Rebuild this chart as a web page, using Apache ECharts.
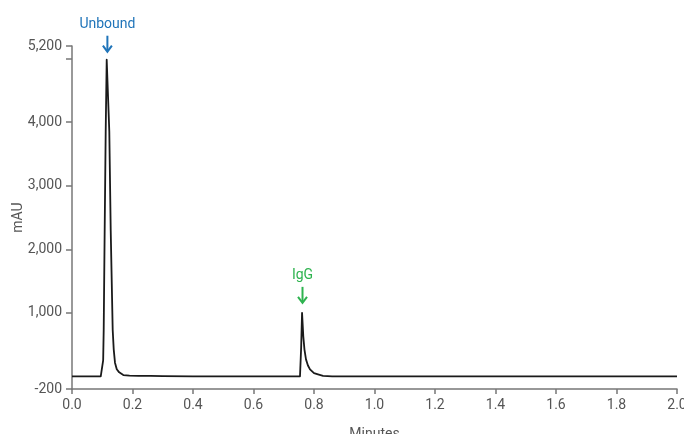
<!DOCTYPE html>
<html>
<head>
<meta charset="utf-8">
<script src="https://cdn.jsdelivr.net/npm/echarts@6/dist/echarts.min.js"></script>
<style>html,body{margin:0;padding:0;background:#fff;}#c{width:684px;height:434px;}</style>
</head>
<body>
<div id="c"></div>
<script>
// Time (minutes) and absorbance (mAU)
var times = [0, 0.05, 0.095, 0.1015, 0.103, 0.1048, 0.108, 0.1114, 0.1147, 0.119, 0.1233, 0.128, 0.1345, 0.138, 0.1421, 0.148, 0.156, 0.1696, 0.19, 0.22, 0.26, 0.3, 0.4, 0.465, 0.47, 0.475, 0.55, 0.65, 0.74, 0.7537, 0.7575, 0.7605, 0.762, 0.7646, 0.7685, 0.7735, 0.78, 0.7868, 0.8, 0.8132, 0.83, 0.86, 0.95, 1.1, 1.225, 1.23, 1.235, 1.315, 1.32, 1.325, 1.45, 1.6, 1.8, 2.0];
var mAU   = [0, 0, 0, 0, 250, 734, 2297, 3859, 4984, 4984, 3859, 2297, 734, 420, 214, 110, 62, 20, 10, 8, 6, 2, 0, 0, 12, 0, 0, 0, 0, 0, 450, 1000, 1030, 630, 420, 266, 170, 109, 50, 31, 8, 0, 0, 0, 0, 10, 0, 0, 8, 0, 0, 0, 0, 0];
var yTickLabels = [-200, 1000, 2000, 3000, 4000, 5200];
var yTickMarks = [-200, 1000, 2000, 3000, 4000, 5000, 5200];
var xMin = 0, xMax = 2.0, xStep = 0.2;
var yMin = -200, yMax = 5200;
var yTitle = 'mAU';
var peaks = [
  {name: 'Unbound', t: 0.117, v: 4984, color: '#1f74b9'},
  {name: 'IgG', t: 0.762, v: 1030, color: '#2eb34f'}
];

var font = "'Roboto', sans-serif";
var data = times.map(function (t, i) { return [t, mAU[i]]; });

var chart = echarts.init(document.getElementById('c'));
chart.setOption({
  animation: false,
  backgroundColor: '#fff',
  grid: {left: 72, right: 7, top: 46, bottom: 45, containLabel: false, outerBoundsMode: 'none'},
  xAxis: {
    type: 'value', min: xMin, max: xMax, interval: xStep,
    name: 'Minutes', nameLocation: 'middle', nameGap: 38, nameMoveOverlap: false,
    nameTextStyle: {fontFamily: font, fontSize: 14, color: '#555'},
    axisLine: {onZero: false, lineStyle: {color: '#777', width: 1.5}},
    axisTick: {show: true, length: 5, lineStyle: {color: '#777', width: 1.5}},
    axisLabel: {fontFamily: font, fontSize: 14, color: '#555', margin: 9,
      formatter: function (v) { return v.toFixed(1); }},
    splitLine: {show: false}
  },
  yAxis: {
    type: 'value', min: yMin, max: yMax,
    axisLine: {show: true, lineStyle: {color: '#777', width: 1.5}},
    axisTick: {show: true, length: 6, customValues: yTickMarks, lineStyle: {color: '#777', width: 1.5}},
    axisLabel: {fontFamily: font, fontSize: 14, color: '#555', margin: 10, customValues: yTickLabels,
      formatter: function (v) { return v.toLocaleString('en-US'); }},
    splitLine: {show: false}
  },
  series: [{
    type: 'line', data: data, showSymbol: false, smooth: false,
    lineStyle: {color: '#1a1a1a', width: 1.8, join: 'round'}
  }]
});

var g = [];
var midY = chart.convertToPixel({gridIndex: 0}, [0, (yMin + yMax) / 2])[1];
g.push({type: 'text', x: 18, y: midY, rotation: Math.PI / 2,
  style: {text: yTitle, fill: '#555', font: '14px ' + font, align: 'center', verticalAlign: 'middle'}});
peaks.forEach(function (p) {
  var pt = chart.convertToPixel({gridIndex: 0}, [p.t, p.v]);
  var x = pt[0], tip = pt[1] - 8, start = tip - 16;
  g.push({type: 'line', shape: {x1: x, y1: start, x2: x, y2: tip - 1}, style: {stroke: p.color, lineWidth: 2}});
  g.push({type: 'polyline', shape: {points: [[x - 4.5, tip - 6], [x, tip], [x + 4.5, tip - 6]]}, style: {stroke: p.color, lineWidth: 2, fill: null}});
  g.push({type: 'text', x: x, y: start - 4, style: {text: p.name, fill: p.color, font: '14px ' + font, align: 'center', verticalAlign: 'bottom'}});
});
chart.setOption({graphic: g});
</script>
</body>
</html>
